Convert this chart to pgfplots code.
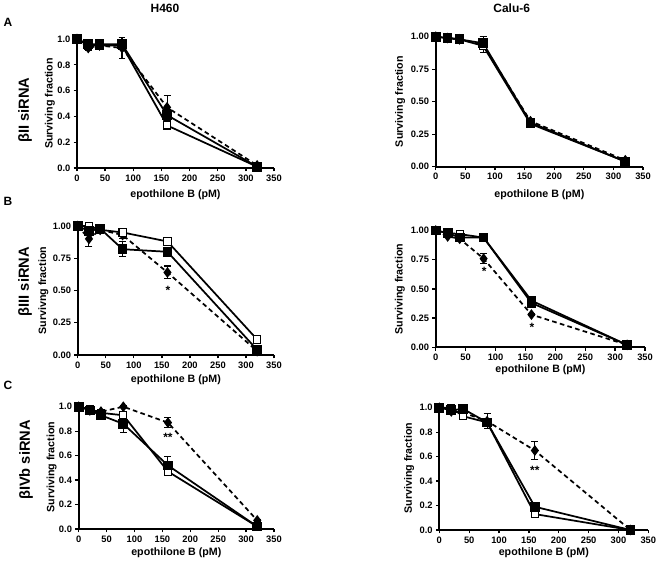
\documentclass[border=0pt]{standalone}
\usepackage{pgfplots}
\pgfplotsset{compat=1.18}
\usepackage{pgfplotstable}
\usepackage{fontspec}
\setmainfont{Liberation Sans}

% x y err
\pgfplotstableread{
x y e
0 1.00 0
20 0.96 0.02
40 0.96 0.02
80 0.96 0.02
160 0.41 0.04
320 0.01 0.01
}\ALfs
\pgfplotstableread{
x y e
0 1.00 0
20 0.95 0.01
40 0.95 0.02
80 0.95 0.03
160 0.33 0.03
320 0.01 0.01
}\ALos
\pgfplotstableread{
x y e
0 1.00 0
20 0.93 0.02
40 0.95 0.01
80 0.93 0.08
160 0.47 0.09
320 0.02 0.01
}\ALdi

\pgfplotstableread{
x y e
0 1.00 0
20 0.99 0.01
40 0.98 0.01
80 0.95 0.05
160 0.34 0.02
320 0.04 0.01
}\ARfs
\pgfplotstableread{
x y e
0 1.00 0
20 0.99 0.01
40 0.98 0.01
80 0.93 0.03
160 0.33 0.01
320 0.04 0.01
}\ARos
\pgfplotstableread{
x y e
0 1.00 0
20 0.99 0.01
40 0.98 0.01
80 0.94 0.06
160 0.35 0.01
320 0.05 0.01
}\ARdi

\pgfplotstableread{
x y e
0 1.00 0
20 0.96 0.02
40 0.98 0.01
80 0.82 0.06
160 0.80 0.02
320 0.04 0.01
}\BLfs
\pgfplotstableread{
x y e
0 1.00 0
20 1.00 0.01
40 0.97 0.01
80 0.95 0.02
160 0.88 0.03
320 0.12 0.01
}\BLos
\pgfplotstableread{
x y e
0 1.00 0
20 0.90 0.06
40 0.97 0.01
80 0.93 0.03
160 0.64 0.05
320 0.03 0.01
}\BLdi

\pgfplotstableread{
x y e
0 1.00 0
20 0.98 0.01
40 0.94 0.01
80 0.94 0.02
160 0.38 0.01
320 0.02 0.01
}\BRfs
\pgfplotstableread{
x y e
0 1.00 0
20 0.98 0.01
40 0.97 0.01
80 0.94 0.02
160 0.40 0.01
320 0.02 0.01
}\BRos
\pgfplotstableread{
x y e
0 1.00 0
20 0.95 0.01
40 0.93 0.01
80 0.76 0.04
160 0.28 0.01
320 0.02 0.01
}\BRdi

\pgfplotstableread{
x y e
0 1.00 0
20 0.97 0.03
40 0.93 0.03
80 0.86 0.07
160 0.52 0.07
320 0.02 0.01
}\CLfs
\pgfplotstableread{
x y e
0 1.00 0
20 0.98 0.01
40 0.95 0.01
80 0.93 0.03
160 0.47 0.03
320 0.02 0.01
}\CLos
\pgfplotstableread{
x y e
0 1.00 0
20 0.97 0.01
40 0.96 0.01
80 1.00 0.01
160 0.87 0.04
320 0.07 0.01
}\CLdi

\pgfplotstableread{
x y e
0 1.00 0
20 0.98 0.01
40 0.99 0.01
80 0.88 0.03
160 0.19 0.02
320 0.00 0.01
}\CRfs
\pgfplotstableread{
x y e
0 1.00 0
20 1.00 0.01
40 0.93 0.01
80 0.88 0.02
160 0.13 0.01
320 0.00 0.01
}\CRos
\pgfplotstableread{
x y e
0 1.00 0
20 0.97 0.01
40 0.96 0.01
80 0.89 0.06
160 0.65 0.07
320 0.00 0.01
}\CRdi

\tikzset{starlab/.style={font=\bfseries\fontsize{9}{9}\selectfont, inner sep=0pt}}

\pgfplotsset{
 gp/.style={
  scale only axis, anchor=south west,
  axis lines=left, axis line style={line width=1.3pt,-,black},
  xmin=0,xmax=350,ymin=0,ymax=1,
  xtick={0,50,100,150,200,250,300,350},
  tick style={line width=1pt, black},
  major tick length=2.5pt,
  tick align=outside,
  clip=false,
  /pgf/number format/assume math mode=true,
  tick label style={font=\bfseries\fontsize{7}{8}\selectfont},
  xticklabel style={yshift=1pt},
  yticklabel style={xshift=1pt},
  label style={font=\bfseries\fontsize{8}{9}\selectfont},
  xlabel={epothilone B (pM)},
  ylabel={Surviving fraction},
 },
 yA/.style={ytick={0,0.2,0.4,0.6,0.8,1.0}, yticklabel style={/pgf/number format/.cd,fixed,fixed zerofill,precision=1}},
 yB/.style={ytick={0,0.25,0.5,0.75,1}, yticklabel style={/pgf/number format/.cd,fixed,fixed zerofill,precision=2}},
 eb/.style={error bars/.cd, y dir=both, y explicit, error bar style={line width=0.8pt,solid,black}, error mark options={rotate=90, mark size=2.6pt, line width=0.8pt,black}},
 fs/.style={black, line width=1.3pt, mark=square*, mark size=3pt, mark options={solid, draw=black, fill=black}, eb},
 os/.style={black, line width=1.3pt, mark=square*, mark size=2.7pt, mark options={solid, draw=black, fill=white, line width=0.8pt}, eb},
 di/.style={black, line width=1.3pt, dashed, dash pattern=on 3.5pt off 2.5pt, mark=diamond*, mark size=3pt, mark options={solid, draw=black, fill=black}, eb},
}

\begin{document}
\begin{tikzpicture}
\useasboundingbox (0,0) rectangle (495.75pt,422.25pt);

% titles
\node[font=\bfseries\fontsize{9}{10}\selectfont] at (123.75pt,416.25pt) {H460};
\node[font=\bfseries\fontsize{9}{10}\selectfont] at (383.8pt,416.25pt) {Calu-6};
\node[font=\bfseries\fontsize{9}{10}\selectfont] at (6pt,405.75pt) {A};
\node[font=\bfseries\fontsize{9}{10}\selectfont] at (6pt,271pt) {B};
\node[font=\bfseries\fontsize{9}{10}\selectfont] at (6pt,133pt) {C};
\node[font=\bfseries\fontsize{11}{12}\selectfont, rotate=90] at (18.75pt,339.75pt) {βII siRNA};
\node[font=\bfseries\fontsize{11}{12}\selectfont, rotate=90] at (18.75pt,211pt) {βIII siRNA};
\node[font=\bfseries\fontsize{11}{12}\selectfont, rotate=90] at (19.5pt,77.25pt) {βIVb siRNA};

% A left
\begin{axis}[gp, yA, at={(57.75pt,296.25pt)}, width=147.75pt, height=96.75pt,
  xlabel style={at={(axis description cs:0.5,-0.209)}, anchor=center},
  ylabel style={at={(axis description cs:-0.137,0.5)}, anchor=center}]
\addplot[di] table[x=x,y=y,y error=e] {\ALdi};
\addplot[os] table[x=x,y=y,y error=e] {\ALos};
\addplot[fs] table[x=x,y=y,y error=e] {\ALfs};
\end{axis}

% A right
\begin{axis}[gp, yB, at={(326.8pt,297.2pt)}, width=155.5pt, height=97.5pt,
  xlabel style={at={(axis description cs:0.5,-0.218)}, anchor=center},
  ylabel style={at={(axis description cs:-0.172,0.5)}, anchor=center}]
\addplot[di] table[x=x,y=y,y error=e] {\ARdi};
\addplot[os] table[x=x,y=y,y error=e] {\ARos};
\addplot[fs] table[x=x,y=y,y error=e] {\ARfs};
\end{axis}

% B left
\begin{axis}[gp, yB, at={(58.3pt,156pt)}, width=147.2pt, height=96.75pt,
  ylabel={Survivng fraction},
  xlabel style={at={(axis description cs:0.5,-0.194)}, anchor=center},
  ylabel style={at={(axis description cs:-0.175,0.5)}, anchor=center}]
\addplot[di] table[x=x,y=y,y error=e] {\BLdi};
\addplot[os] table[x=x,y=y,y error=e] {\BLos};
\addplot[fs] table[x=x,y=y,y error=e] {\BLfs};
\node[starlab] at (axis cs:161,0.50) {*};
\end{axis}

% B right
\begin{axis}[gp, yB, at={(326.8pt,161.8pt)}, width=157pt, height=87.5pt,
  xlabel style={at={(axis description cs:0.5,-0.195)}, anchor=center},
  ylabel style={at={(axis description cs:-0.171,0.5)}, anchor=center}]
\addplot[di] table[x=x,y=y,y error=e] {\BRdi};
\addplot[os] table[x=x,y=y,y error=e] {\BRos};
\addplot[fs] table[x=x,y=y,y error=e] {\BRfs};
\node[starlab] at (axis cs:81,0.65) {*};
\node[starlab] at (axis cs:161,0.17) {*};
\end{axis}

% C left
\begin{axis}[gp, yA, at={(59pt,25.5pt)}, width=146.5pt, height=91.7pt,
  xlabel style={at={(axis description cs:0.5,-0.194)}, anchor=center},
  ylabel style={at={(axis description cs:-0.138,0.507)}, anchor=center}]
\addplot[di] table[x=x,y=y,y error=e] {\CLdi};
\addplot[os] table[x=x,y=y,y error=e] {\CLos};
\addplot[fs] table[x=x,y=y,y error=e] {\CLfs};
\node[starlab] at (axis cs:160,0.75) {**};
\end{axis}

% C right
\begin{axis}[gp, yA, at={(329.5pt,24.75pt)}, width=156.75pt, height=91.7pt,
  xlabel style={at={(axis description cs:0.5,-0.186)}, anchor=center},
  ylabel style={at={(axis description cs:-0.144,0.507)}, anchor=center}]
\addplot[di] table[x=x,y=y,y error=e] {\CRdi};
\addplot[os] table[x=x,y=y,y error=e] {\CRos};
\addplot[fs] table[x=x,y=y,y error=e] {\CRfs};
\node[starlab] at (axis cs:160,0.49) {**};
\end{axis}
\end{tikzpicture}
\end{document}
